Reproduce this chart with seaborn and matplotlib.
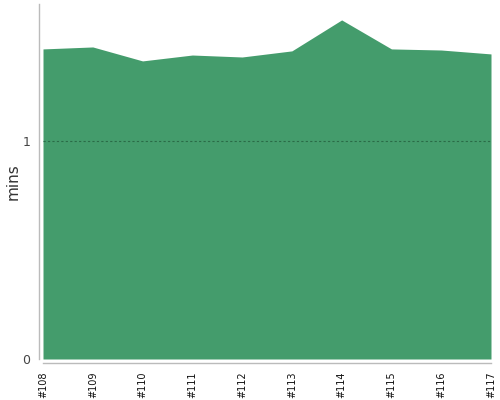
import matplotlib
matplotlib.use("Agg")
import matplotlib.pyplot as plt
import seaborn as sns

builds = ["#108", "#109", "#110", "#111", "#112", "#113", "#114", "#115", "#116", "#117"]
durations = [1.422, 1.431, 1.367, 1.394, 1.385, 1.413, 1.555, 1.422, 1.417, 1.399]

sns.set_style("white")
fig = plt.figure(figsize=(5, 4), dpi=100)
ax = fig.add_axes([0.086, 0.1025, 0.896, 0.8875])

x = list(range(len(builds)))
ax.fill_between(x, 0, durations, color="#449c6c", linewidth=0)

sns.despine(ax=ax, offset=3)
for s in ("left", "bottom"):
    ax.spines[s].set_color("#bbbbbb")
    ax.spines[s].set_linewidth(1)

ax.set_xlim(0, len(builds) - 1)
ax.set_ylim(0, 1.628)
ax.set_xticks(x)
ax.set_xticklabels(builds, rotation=90, fontsize=7, color="#111111")
ax.set_yticks([0, 1])
ax.set_yticklabels(["0", "1"], fontsize=9, color="#444444")
ax.axhline(1, color="#2a6b47", linestyle=(0, (2, 2)), linewidth=0.8, zorder=3)

ax.set_ylabel("mins", fontsize=11, color="#333333", labelpad=1)
ax.set_xlabel("")
ax.tick_params(axis="both", length=3, width=0.8, color="#bbbbbb", pad=3)

fig.savefig("out.png", dpi=100)
